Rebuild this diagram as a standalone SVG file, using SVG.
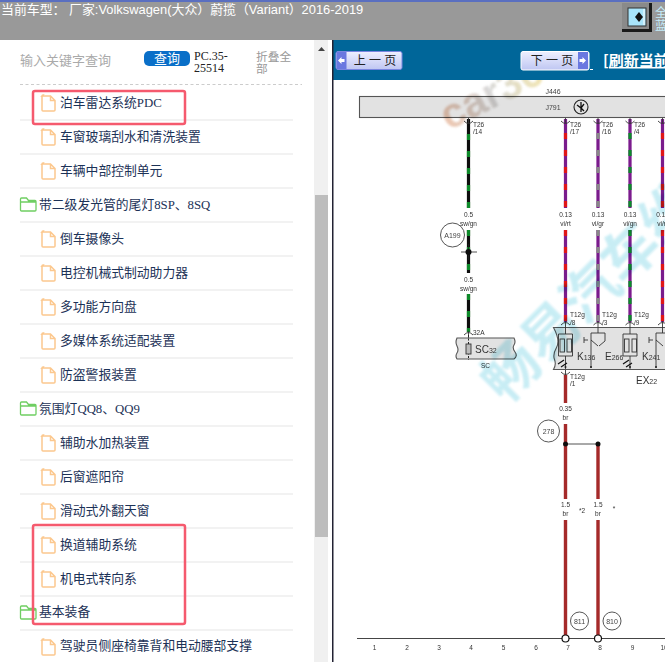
<svg xmlns="http://www.w3.org/2000/svg" width="665" height="662" viewBox="0 0 665 662">
<style>
.t{font-family:"Liberation Serif","Noto Sans CJK SC",serif;font-size:12.8px;fill:#1c3257}
.s{font-family:"Liberation Sans",sans-serif;fill:#333}
.sm{font-size:6.500px;text-anchor:middle}
.sl{font-size:6.500px}
.wb{fill:none;stroke-width:3.200}
.g{font-family:"Liberation Sans",sans-serif;font-size:7px;fill:#444;text-anchor:middle}
.f{fill:#fff;stroke:#fcc88e;stroke-width:1.500}
.d{fill:#fff;stroke:#6fce62;stroke-width:1.300}
.sep{stroke:#f2f2f2;stroke-width:2}
.red{fill:none;stroke:#f55a6e;stroke-width:2.500}
.br{stroke:#a52a2a;stroke-width:3.400;fill:none}
.c{fill:#fff;stroke:#444;stroke-width:.9}
.btn{font-family:"Liberation Sans","Noto Sans CJK SC",sans-serif;font-size:12px;fill:#222;text-anchor:middle}
.box{fill:#e2e2e2;stroke:#555;stroke-width:1.100}
.sw{fill:none;stroke:#333;stroke-width:.9}
.big{font-size:10px}
</style>
<defs>
<filter id="soft" x="-5%" y="-5%" width="110%" height="110%"><feGaussianBlur stdDeviation="0.3"/></filter>
<filter id="wm" x="-5%" y="-5%" width="110%" height="110%"><feGaussianBlur stdDeviation="0.8"/></filter>
<clipPath id="below-nav"><rect x="333" y="80" width="332" height="582"/></clipPath>
<path id="file" class="f" d="M0 0h8.500l4.500 4.500v9.500q0 1-1 1h-11q-1 0-1-1v-14q0-1 1-1zM8.500 0v4.500h4.500"/>
<path id="dir" class="d" d="M0 1q0-1 1-1h5l2 2.500h6.500q1 0 1 1v8.500q0 1-1 1h-13.500q-1 0-1-1zM0 4h15.500"/>
<linearGradient id="bg" x1="0" y1="0" x2="0" y2="1"><stop offset="0" stop-color="#eef0ff"/><stop offset="1" stop-color="#bfc6f2"/></linearGradient>
<linearGradient id="wmc" x1="0" y1="0" x2="1" y2="0"><stop offset="0" stop-color="#e8b89c"/><stop offset=".5" stop-color="#cfcfcf"/><stop offset="1" stop-color="#f0e09c"/></linearGradient>
</defs>

<rect width="665" height="662" fill="#fff"/>

<g id="top-bar">
<rect width="665" height="40" fill="#999"/>
<rect width="665" height="2" fill="#5a6fc0"/>
<text x="1" y="14" style="font-family:'Liberation Sans','Noto Sans CJK SC',sans-serif;font-size:12.900px;fill:#fff">当前车型： 厂家:Volkswagen(大众）蔚揽（Variant）2016-2019</text>
<rect x="622" y="3" width="30" height="29" fill="#1a1a1a"/>
<rect x="622" y="3" width="27" height="26" fill="#8a8a8a"/>
<rect x="628" y="8" width="18" height="18" fill="#a8e4fa" stroke="#333"/>
<path d="M639 12l-4 5 4 5 4-5z" fill="#111"/>
<path d="M644 9v16" stroke="#fff" stroke-width="1"/>
<text x="655" y="17" style="font-family:'Noto Sans CJK SC',sans-serif;font-size:12px;fill:#c4ecfa">全</text>
<text x="655" y="30" style="font-family:'Noto Sans CJK SC',sans-serif;font-size:12px;fill:#c4ecfa">蓝</text>
</g>

<g id="sidebar">
<text x="20" y="65" style="font-family:'Noto Sans CJK SC',sans-serif;font-size:13px;fill:#aaa">输入关键字查询</text>
<rect x="144" y="51" width="46" height="15" rx="5" fill="#0a6fc8"/>
<text x="167" y="63" text-anchor="middle" style="font-family:'Noto Sans CJK SC',sans-serif;font-size:13px;fill:#fff">查询</text>
<text x="194" y="60" style="font-family:'Liberation Serif',serif;font-size:12px;fill:#222">PC.35-</text>
<text x="194" y="72" style="font-family:'Liberation Serif',serif;font-size:12px;fill:#222">25514</text>
<text x="256" y="61" style="font-family:'Noto Sans CJK SC',sans-serif;font-size:11.700px;fill:#999">折叠全</text>
<text x="256" y="73" style="font-family:'Noto Sans CJK SC',sans-serif;font-size:11.700px;fill:#999">部</text>
<path d="M20 84.500H302" stroke="#ccc" stroke-dasharray="3 2.500"/>
<path class="sep" d="M20 120H293M20 154H293M20 188H293M20 222H293M20 256H293M20 290H293M20 324H293M20 358H293M20 392H293M20 426H293M20 460H293M20 494H293M20 528H293M20 562H293M20 596H293M20 630H293"/>
<use href="#file" x="42" y="96"/><text class="t" x="60" y="107">泊车雷达系统PDC</text>
<use href="#file" x="42" y="130"/><text class="t" x="60" y="141">车窗玻璃刮水和清洗装置</text>
<use href="#file" x="42" y="164"/><text class="t" x="60" y="175">车辆中部控制单元</text>
<use href="#dir" x="20.500" y="198"/><text class="t" x="39" y="209">带二级发光管的尾灯8SP、8SQ</text>
<use href="#file" x="42" y="232"/><text class="t" x="60" y="243">倒车摄像头</text>
<use href="#file" x="42" y="266"/><text class="t" x="60" y="277">电控机械式制动助力器</text>
<use href="#file" x="42" y="300"/><text class="t" x="60" y="311">多功能方向盘</text>
<use href="#file" x="42" y="334"/><text class="t" x="60" y="345">多媒体系统适配装置</text>
<use href="#file" x="42" y="368"/><text class="t" x="60" y="379">防盗警报装置</text>
<use href="#dir" x="20.500" y="402"/><text class="t" x="39" y="413">氛围灯QQ8、QQ9</text>
<use href="#file" x="42" y="436"/><text class="t" x="60" y="447">辅助水加热装置</text>
<use href="#file" x="42" y="470"/><text class="t" x="60" y="481">后窗遮阳帘</text>
<use href="#file" x="42" y="504"/><text class="t" x="60" y="515">滑动式外翻天窗</text>
<use href="#file" x="42" y="538"/><text class="t" x="60" y="549">换道辅助系统</text>
<use href="#file" x="42" y="572"/><text class="t" x="60" y="583">机电式转向系</text>
<use href="#dir" x="20.500" y="606"/><text class="t" x="39" y="616">基本装备</text>
<use href="#file" x="42" y="640"/><text class="t" x="60" y="650">驾驶员侧座椅靠背和电动腰部支撑</text>
<rect x="33" y="91" width="152" height="33" rx="2" class="red"/>
<rect x="33" y="525" width="152" height="99" rx="2" class="red"/>
</g>

<g id="scrollbar">
<rect x="314" y="40" width="14" height="622" fill="#f0f0f0"/>
<path d="M318 51l3.500-4 3.500 4z" fill="#444"/>
<rect x="315" y="195" width="13" height="342" fill="#bdbdbd"/>
</g>

<g id="nav-bar">
<rect x="333" y="40" width="332" height="40" fill="#006699"/>
<rect x="332" y="40" width="1.500" height="622" fill="#223"/>
<g id="prev-btn">
<rect x="336" y="51.500" width="66" height="18" rx="2" fill="url(#bg)" stroke="#7a86e0"/>
<rect x="336.500" y="52" width="10" height="17" fill="#6a78e0"/>
<path d="M338 60.500l3.500-3.500v2h3v3h-3v2z" fill="#fff"/>
<text class="btn" x="375" y="65">上 一 页</text>
</g>
<g id="next-btn">
<rect x="521" y="51.500" width="68" height="18.500" rx="2" fill="url(#bg)" stroke="#fff"/>
<rect x="578" y="52" width="10" height="17" fill="#6a78e0"/>
<path d="M586 60.500l-3.500-3.500v2h-3v3h3v2z" fill="#fff"/>
<text class="btn" x="552" y="65">下 一 页</text>
<path d="M590 69.500h3" stroke="#fff"/>
</g>
<text x="603" y="66" text-decoration="underline" style="font-family:'Noto Sans CJK SC',sans-serif;font-size:15px;font-weight:700;fill:#fff">[刷新当前</text>
</g>

<g id="schematic" filter="url(#soft)">
<g id="connectors">
<g class="wb">
<path d="M468.500 119V208M468.500 230V273M468.500 294V332" stroke="#111"/>
<path d="M468.500 134V208M468.500 230V273M468.500 294V332" stroke="#0a8a2a" stroke-dasharray="6 11"/>
<path d="M565.500 119V208M565.500 230V322" stroke="#7a1a8c"/>
<path d="M565.500 133V208M565.500 230V322" stroke="#e01818" stroke-dasharray="6 11"/>
<path d="M598 119V208M598 230V322" stroke="#7a1a8c"/>
<path d="M598 133V208M598 230V322" stroke="#888" stroke-dasharray="6 11"/>
<path d="M630 119V208M630 230V322" stroke="#7a1a8c"/>
<path d="M630 133V208M630 230V322" stroke="#0a8a2a" stroke-dasharray="6 11"/>
<path d="M662.500 119V208M662.500 230V322" stroke="#7a1a8c"/>
<path d="M662.500 133V208M662.500 230V322" stroke="#e01818" stroke-dasharray="6 11"/>
</g>
<path class="br" d="M565.500 375V403M565.500 424V499M565.500 520V638M598 444V499M598 520V638"/>
<path d="M565.500 444H598" stroke="#222" stroke-width=".8"/>
<path d="M461 252H477M468.500 244V260" stroke="#222" stroke-width=".8"/>
<circle cx="468.500" cy="252" r="3" fill="#111"/>
<circle cx="565.500" cy="444" r="2.500" fill="#111"/>
<circle cx="598" cy="444" r="2.500" fill="#111"/>
<path d="M357 638.500H665" stroke="#444" stroke-width="1"/>
<circle cx="565.500" cy="638.500" r="3.500" fill="#fff" stroke="#111" stroke-width="1.200"/>
<circle cx="598" cy="638.500" r="3.500" fill="#fff" stroke="#111" stroke-width="1.200"/>
<path class="sw" d="M464 121q4.500 5 9 0M468.500 117v6M561 121q4.500 5 9 0M565.500 117v6M593.500 121q4.500 5 9 0M598 117v6M625.500 121q4.500 5 9 0M630 117v6M658 121q4.500 5 9 0M662.500 117v6"/>
<path class="sw" d="M464 335q4.500-5 9 0M468.500 331v7M561 325q4.500-5 9 0M565.500 321v6M593.500 325q4.500-5 9 0M598 321v6M625.500 325q4.500-5 9 0M630 321v6M658 325q4.500-5 9 0M662.500 321v6M561 372q4.500 5 9 0M565.500 369v6"/>
</g>

<g id="J791">
<rect class="box" x="359.500" y="96.500" width="310" height="21"/>
<text class="g" x="553" y="94">J446</text>
<text class="g" x="553" y="109.500">J791</text>
<circle cx="581" cy="107" r="7" fill="none" stroke="#222" stroke-width="1.100"/>
<path d="M581 102v10M577 105l4 3 3-4M581 108l3 3" fill="none" stroke="#111" stroke-width="1.300"/>
</g>

<g id="pin-labels" class="s">
<text class="sl" x="473" y="127">T26</text><text class="sl" x="473" y="134">/14</text>
<text class="sl" x="570" y="127">T26</text><text class="sl" x="570" y="134">/17</text>
<text class="sl" x="602" y="127">T26</text><text class="sl" x="602" y="134">/16</text>
<text class="sl" x="634" y="127">T26</text><text class="sl" x="634" y="134">/4</text>
<text class="sm" x="468.500" y="217">0.5</text><text class="sm" x="468.500" y="226">sw/gn</text>
<text class="sm" x="468.500" y="282">0.5</text><text class="sm" x="468.500" y="291">sw/gn</text>
<text class="sm" x="565.500" y="217">0.13</text><text class="sm" x="565.500" y="226">vi/rt</text>
<text class="sm" x="598" y="217">0.13</text><text class="sm" x="598" y="226">vi/gr</text>
<text class="sm" x="630" y="217">0.13</text><text class="sm" x="630" y="226">vi/gn</text>
<text class="sm" x="662.500" y="217">0.13</text><text class="sm" x="662.500" y="226">vi/rt</text>
<text class="sl" x="473" y="335">32A</text>
<text class="sl" x="570" y="317">T12g</text><text class="sl" x="570" y="325">/8</text>
<text class="sl" x="602" y="317">T12g</text><text class="sl" x="602" y="325">/3</text>
<text class="sl" x="634" y="317">T12g</text><text class="sl" x="634" y="325">/9</text>
<text class="sl" x="570" y="379">T12g</text><text class="sl" x="570" y="386">/1</text>
<text class="sm" x="565.500" y="411">0.35</text><text class="sm" x="565.500" y="420">br</text>
<text class="sm" x="565.500" y="507">1.5</text><text class="sm" x="565.500" y="516">br</text>
<text class="sm" x="598" y="507">1.5</text><text class="sm" x="598" y="516">br</text>
<text class="sm" x="582" y="513">*2</text>
<text class="sm" x="614" y="511">*</text>
</g>

<g id="A199"><circle class="c" cx="452.500" cy="235" r="12"/><text class="g" x="452.500" y="237.500">A199</text></g>
<g id="n278"><circle class="c" cx="548.500" cy="431" r="11"/><text class="g" x="548.500" y="433.500">278</text></g>
<g id="n811"><circle class="c" cx="579.500" cy="621" r="9"/><text class="g" x="579.500" y="623.500">811</text></g>
<g id="n810"><circle class="c" cx="612" cy="621" r="9"/><text class="g" x="612" y="623.500">810</text></g>

<g id="SC32">
<path class="box" d="M457 338H514q2 4 0 7t1 7-1 7H457q-2-3 0-6t0-7 0-8z"/>
<path d="M468.500 335V360" stroke="#222" stroke-dasharray="2 1.500"/>
<rect x="466" y="344" width="5" height="10" fill="#bbb" stroke="#333" stroke-width=".9"/>
<text class="s big" x="475" y="352.500">SC<tspan font-size="7">32</tspan></text>
<text class="s sl" x="481" y="368">SC</text>
</g>

<g id="EX22">
<path class="box" d="M553.500 327.500H670V369.500H553.500q3-5 1-10t2-12-3-20z"/>
<g class="sw">
<path d="M565.500 327V334M558.500 334H572.500V356H558.500zM565.500 356V369"/>
<rect x="560" y="339" width="4.500" height="13"/><rect x="567" y="339" width="4.500" height="13"/>
<path d="M598 327V333M591 333H605M591 333V368M591 340L598 346M605 333V341L599 346M584 337V343M584 340H588"/>
<path d="M630 327V334M623 334H637V356H623zM630 356V369"/>
<rect x="624.500" y="339" width="4.500" height="13"/><rect x="632" y="339" width="4.500" height="13"/>
<path d="M662.500 327V333M656 333H670M656 333V368M656 340L663 346M649 337V343M649 340H653"/>
<path d="M558 364L564 360M561 367L567 363M623 364L629 360M626 367L632 363" stroke="#111" stroke-width="1.200"/>
</g>
<g fill="#222"><circle cx="565.500" cy="367" r="1"/><circle cx="591" cy="367" r="1"/><circle cx="630" cy="367" r="1"/><circle cx="656" cy="367" r="1"/></g>
<text class="s big" x="577" y="360">K<tspan font-size="7">136</tspan></text>
<text class="s big" x="605" y="360">E<tspan font-size="7">266</tspan></text>
<text class="s big" x="642" y="360">K<tspan font-size="7">241</tspan></text>
<text class="s big" x="636" y="384">EX<tspan font-size="7">22</tspan></text>
</g>

<g id="grid-numbers" class="s">
<text class="sm" x="374.500" y="650">1</text>
<text class="sm" x="407" y="650">2</text>
<text class="sm" x="439" y="650">3</text>
<text class="sm" x="471" y="650">4</text>
<text class="sm" x="503.500" y="650">5</text>
<text class="sm" x="536" y="650">6</text>
<text class="sm" x="568" y="650">7</text>
<text class="sm" x="600" y="650">8</text>
<text class="sm" x="632.500" y="650">9</text>
<text class="sm" x="664" y="650">10</text>
</g>
</g>

<g id="watermarks" clip-path="url(#below-nav)" style="mix-blend-mode:multiply">
<text transform="translate(449 131) rotate(-27)" filter="url(#wm)" style="font-family:'Liberation Sans',sans-serif;font-size:42px;font-weight:700;fill:url(#wmc)" opacity=".8">car36</text>
<text transform="translate(505 405) rotate(-45)" filter="url(#wm)" style="font-family:'Noto Sans CJK SC',sans-serif;font-size:56px;font-weight:700;fill:#bfeaf3" opacity=".85">畅易汽车维</text>
</g>
</svg>
